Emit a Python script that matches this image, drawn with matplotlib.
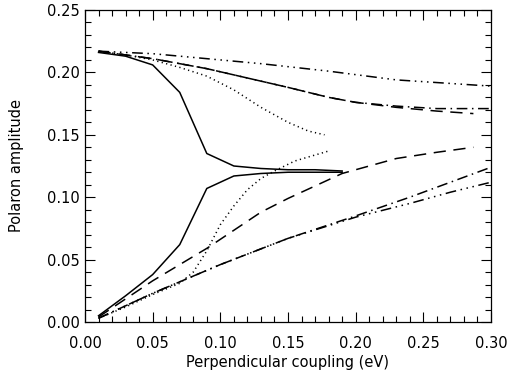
import matplotlib
matplotlib.use("Agg")
import matplotlib.pyplot as plt
from matplotlib.ticker import MultipleLocator

# Solid: two branches
solid_x = [0.01, 0.03, 0.05, 0.07, 0.09, 0.11, 0.13, 0.15, 0.17, 0.19]
solid_up = [0.216, 0.213, 0.206, 0.184, 0.135, 0.125, 0.123, 0.122, 0.122, 0.121]
solid_lo = [0.005, 0.021, 0.038, 0.062, 0.107, 0.117, 0.119, 0.120, 0.120, 0.120]

# Dotted
dot_up_x = [0.01, 0.03, 0.05, 0.07, 0.09, 0.11, 0.13, 0.15, 0.165, 0.177]
dot_up = [0.217, 0.214, 0.210, 0.204, 0.197, 0.186, 0.172, 0.160, 0.153, 0.150]
dot_lo_x = [0.01, 0.03, 0.05, 0.07, 0.08, 0.09, 0.10, 0.11, 0.12, 0.13, 0.14, 0.155, 0.18]
dot_lo = [0.003, 0.012, 0.022, 0.031, 0.040, 0.057, 0.078, 0.093, 0.106, 0.115, 0.121, 0.129, 0.137]

# Dashed
dash_up_x = [0.01, 0.05, 0.09, 0.13, 0.15, 0.18, 0.20, 0.23, 0.26, 0.287]
dash_up = [0.217, 0.211, 0.203, 0.193, 0.188, 0.180, 0.176, 0.172, 0.169, 0.167]
dash_lo_x = [0.01, 0.05, 0.09, 0.13, 0.15, 0.19, 0.23, 0.26, 0.287]
dash_lo = [0.004, 0.033, 0.059, 0.088, 0.099, 0.119, 0.131, 0.136, 0.140]

# Dash-dot
dd_up_x = [0.01, 0.05, 0.09, 0.13, 0.15, 0.18, 0.20, 0.23, 0.26, 0.30]
dd_up = [0.217, 0.211, 0.203, 0.193, 0.188, 0.180, 0.176, 0.173, 0.171, 0.171]
dd_lo_x = [0.01, 0.05, 0.10, 0.15, 0.20, 0.24, 0.27, 0.30]
dd_lo = [0.003, 0.023, 0.046, 0.067, 0.085, 0.100, 0.112, 0.124]

# Dash-dot-dot-dot
ddd_up_x = [0.01, 0.05, 0.09, 0.13, 0.18, 0.23, 0.30]
ddd_up = [0.217, 0.215, 0.211, 0.207, 0.201, 0.194, 0.189]
ddd_lo_x = [0.01, 0.05, 0.10, 0.15, 0.20, 0.24, 0.27, 0.30]
ddd_lo = [0.003, 0.023, 0.046, 0.067, 0.084, 0.095, 0.104, 0.112]

fig = plt.figure(figsize=(5.11, 3.72), dpi=100)
ax = fig.add_axes([85 / 511, 1 - 322 / 372, 406 / 511, 312 / 372])

lw = 1.1
ax.plot(solid_x, solid_up, color='black', lw=lw)
ax.plot(solid_x, solid_lo, color='black', lw=lw)
ax.plot(dot_up_x, dot_up, color='black', lw=lw, linestyle=(0, (0.8, 2.2)))
ax.plot(dot_lo_x, dot_lo, color='black', lw=lw, linestyle=(0, (0.8, 2.2)))
ax.plot(dash_up_x, dash_up, color='black', lw=lw, linestyle=(0, (8, 5)))
ax.plot(dash_lo_x, dash_lo, color='black', lw=lw, linestyle=(0, (8, 5)))
ax.plot(dd_up_x, dd_up, color='black', lw=lw, linestyle=(0, (7, 3, 1, 3)))
ax.plot(dd_lo_x, dd_lo, color='black', lw=lw, linestyle=(0, (7, 3, 1, 3)))
ax.plot(ddd_up_x, ddd_up, color='black', lw=lw, linestyle=(0, (7, 3, 1, 3, 1, 3, 1, 3)))
ax.plot(ddd_lo_x, ddd_lo, color='black', lw=lw, linestyle=(0, (7, 3, 1, 3, 1, 3, 1, 3)))

ax.set_xlim(0.0, 0.30)
ax.set_ylim(0.0, 0.25)
ax.xaxis.set_major_locator(MultipleLocator(0.05))
ax.xaxis.set_minor_locator(MultipleLocator(0.01))
ax.yaxis.set_major_locator(MultipleLocator(0.05))
ax.yaxis.set_minor_locator(MultipleLocator(0.01))
ax.xaxis.set_major_formatter(plt.FormatStrFormatter('%.2f'))
ax.yaxis.set_major_formatter(plt.FormatStrFormatter('%.2f'))
ax.tick_params(which='both', direction='in', top=True, right=True, labelsize=10.5)
ax.tick_params(axis='x', pad=10)
ax.tick_params(axis='y', pad=4)
ax.tick_params(which='major', length=7, width=0.8)
ax.tick_params(which='minor', length=4, width=0.8)
for s in ax.spines.values():
    s.set_linewidth(0.9)

ax.set_xlabel("Perpendicular coupling (eV)", fontsize=10.5, labelpad=3)
ax.set_ylabel("Polaron amplitude", fontsize=10.5, labelpad=16)

fig.savefig("out.png", dpi=100)
